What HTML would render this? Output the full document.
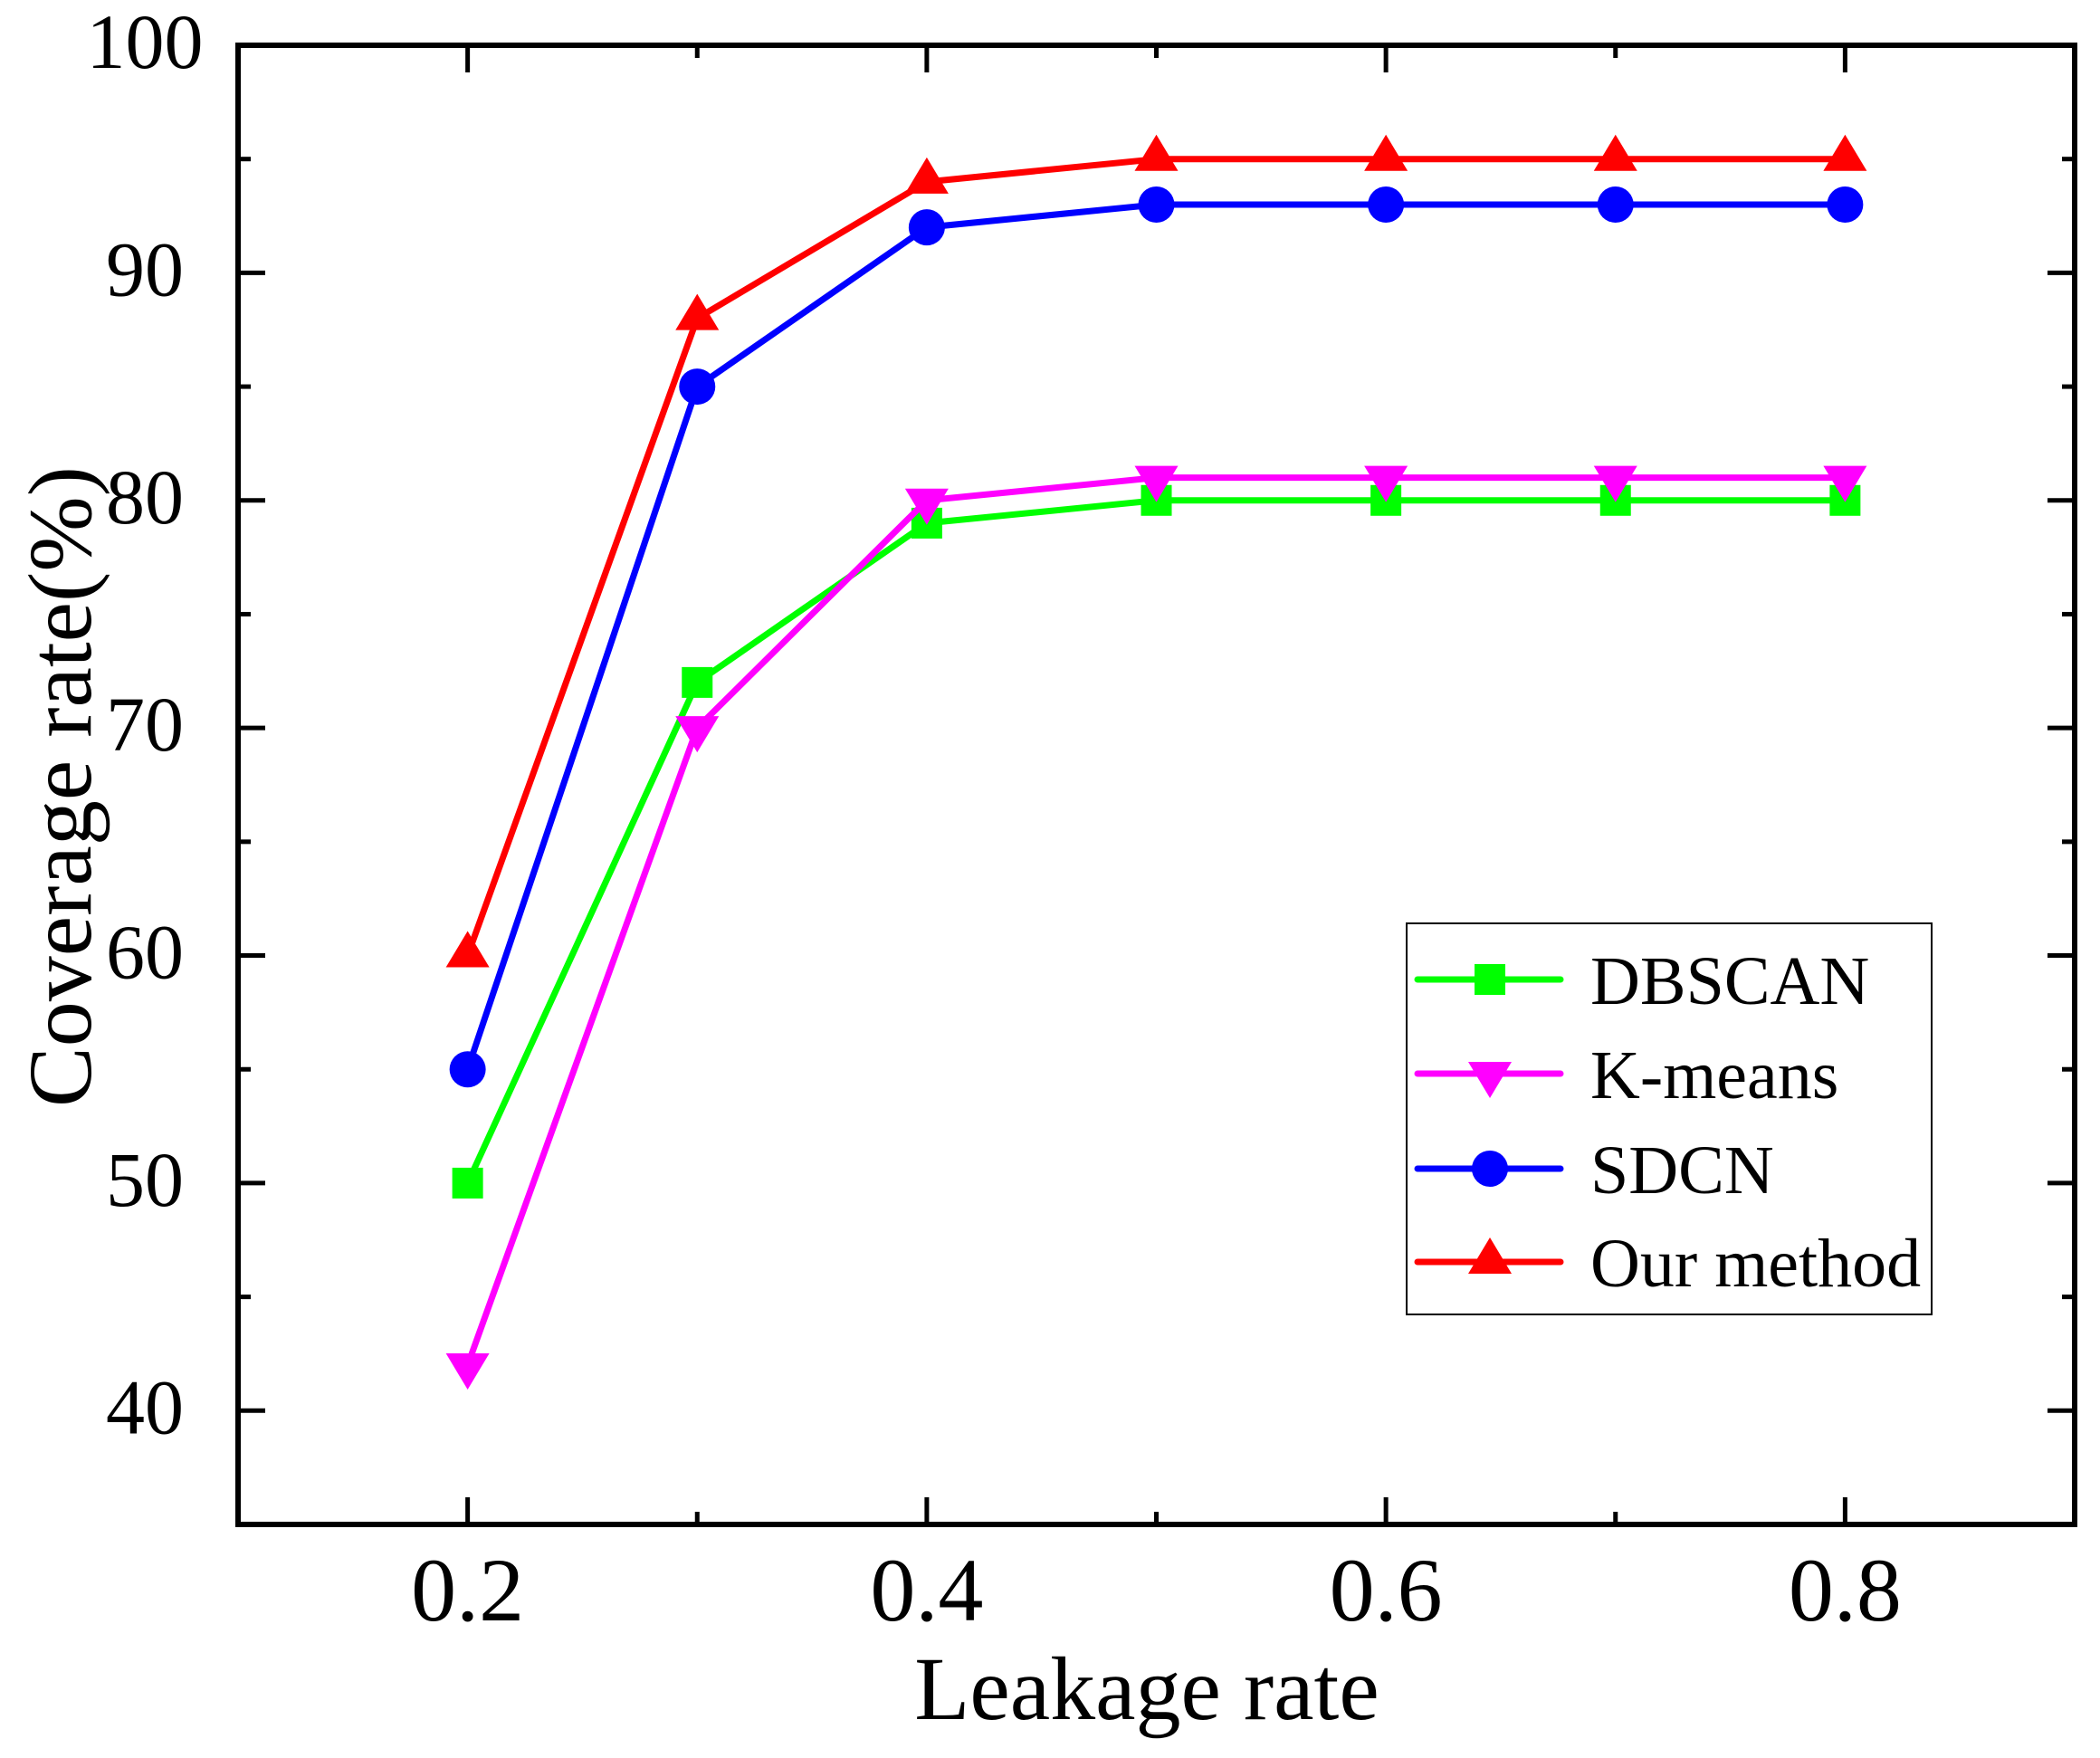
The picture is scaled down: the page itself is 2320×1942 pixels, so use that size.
<!DOCTYPE html>
<html><head><meta charset="utf-8"><style>
html,body{margin:0;padding:0;background:#fff;}
svg{display:block;font-family:"Liberation Serif","Times New Roman",serif;}
</style></head><body>
<svg id="chart" width="2320" height="1942" viewBox="0 0 2320 1942" xmlns="http://www.w3.org/2000/svg">
<g id="plot"></g>
<text x="1267" y="1899" font-size="100" text-anchor="middle">Leakage rate</text>
<text transform="translate(100,869) rotate(-90)" font-size="100" text-anchor="middle">Coverage rate(%)</text>
</svg>
<script>
const categories = [0.2, 0.3, 0.4, 0.5, 0.6, 0.7, 0.8];
const dbscan = [50, 72, 79, 80, 80, 80, 80];
const kmeans = [42, 70, 80, 81, 81, 81, 81];
const sdcn = [55, 85, 92, 93, 93, 93, 93];
const ours = [60, 88, 94, 95, 95, 95, 95];
const seriesNames = ["DBSCAN", "K-means", "SDCN", "Our method"];
const xTickLabels = ["0.2", "0.4", "0.6", "0.8"];
const yTickLabels = ["40", "50", "60", "70", "80", "90", "100"];

const L=263, R=2292, T=50, B=1684;
const xMin=0.1, xMax=0.9, yMin=35, yMax=100;
function sx(v){return L+(v-xMin)/(xMax-xMin)*(R-L);}
function sy(v){return B-(v-yMin)/(yMax-yMin)*(B-T);}
const NS="http://www.w3.org/2000/svg";
const g=document.getElementById('plot');
function mk(tag,attrs,parent){const e=document.createElementNS(NS,tag);for(const k in attrs)e.setAttribute(k,attrs[k]);(parent||g).appendChild(e);return e;}

for(let i=0;i<=8;i++){
  const v=0.1+i*0.1; const x=sx(v);
  const major = (i%2===1);
  const len = major?30:14;
  let t=mk('line',{x1:x,x2:x,y1:B,y2:B-len,stroke:'#000','stroke-width':5});
  
  
  t=mk('line',{x1:x,x2:x,y1:T,y2:T+len,stroke:'#000','stroke-width':5});
  
  
}
for(let v=35; v<=100; v+=5){
  const y=sy(v); const major=(v%10===0); const len=major?30:14;
  let t=mk('line',{x1:L,x2:L+len,y1:y,y2:y,stroke:'#000','stroke-width':5});
  
  
  t=mk('line',{x1:R,x2:R-len,y1:y,y2:y,stroke:'#000','stroke-width':5});
  
  
}
xTickLabels.forEach(s=>{
  const t=mk('text',{x:sx(parseFloat(s)),y:1790,'font-size':100,'text-anchor':'middle'});
  t.textContent=s;
  
  
});
yTickLabels.forEach(s=>{
  const t=mk('text',{x:160,y:sy(parseFloat(s))+25,'font-size':86,'text-anchor':'middle'});
  t.textContent=s;
  
  
});
const fr=mk('rect',{x:L,y:T,width:R-L,height:B-T,fill:'none',stroke:'#000','stroke-width':6});



function marker(type,x,y,color,parent){
  let m;
  if(type==='square') m=mk('rect',{x:x-17,y:y-17,width:34,height:34,fill:color},parent);
  else if(type==='circle') m=mk('circle',{cx:x,cy:y,r:20,fill:color},parent);
  else if(type==='down') m=mk('polygon',{points:`${x-24},${y-13} ${x+24},${y-13} ${x},${y+27}`,fill:color},parent);
  else m=mk('polygon',{points:`${x-24},${y+13} ${x+24},${y+13} ${x},${y-27}`,fill:color},parent);
  return m;
}
const series=[
  {name:seriesNames[0],data:dbscan,color:'#00ff00',m:'square'},
  {name:seriesNames[1],data:kmeans,color:'#ff00ff',m:'down'},
  {name:seriesNames[2],data:sdcn,color:'#0000ff',m:'circle'},
  {name:seriesNames[3],data:ours,color:'#ff0000',m:'up'}
];
series.forEach(s=>{
  const sg=mk('g',{});
  
  
  const pts=s.data.map((v,i)=>sx(categories[i])+','+sy(v)).join(' ');
  const pl=mk('polyline',{points:pts,fill:'none',stroke:s.color,'stroke-width':7,'stroke-linejoin':'round'},sg);
  
  
  s.data.forEach((v,i)=>{
    const m=marker(s.m,sx(categories[i]),sy(v),s.color,sg);
    
    
  });
});
const lg=mk('g',{});


const lb=mk('rect',{x:1554,y:1020,width:580,height:432,fill:'#fff',stroke:'#000','stroke-width':2},lg);


const rows=[1082,1186,1291,1394];
series.forEach((s,i)=>{
  const eg=mk('g',{},lg);
  
  
  const y=rows[i];
  mk('line',{x1:1566,x2:1724,y1:y,y2:y,stroke:s.color,'stroke-width':7,'stroke-linecap':'round'},eg);
  marker(s.m,1646,y,s.color,eg);
  const t=mk('text',{x:1757,y:y+27,'font-size':76},eg);
  t.textContent=s.name;
});
</script>
</body></html>
